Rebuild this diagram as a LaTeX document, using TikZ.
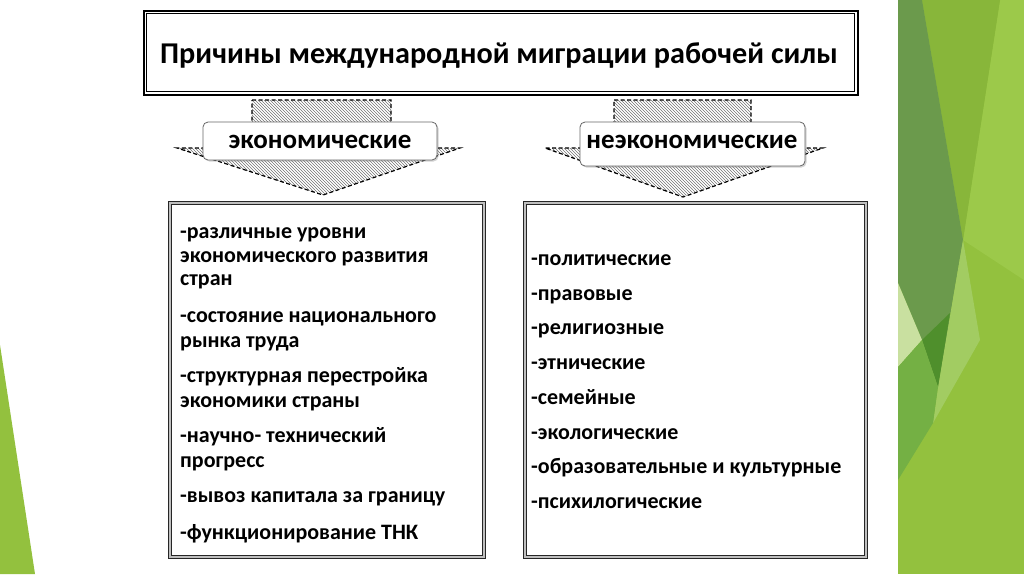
\documentclass[tikz,border=0pt]{standalone}
\usepackage{fontspec}
\setmainfont{Carlito}
\usetikzlibrary{patterns,shadows}
\definecolor{gA}{HTML}{93C13E}
\definecolor{gDark}{HTML}{6B9A4C}
\definecolor{gMid}{HTML}{88B63A}
\definecolor{gLight}{HTML}{9CC94A}
\definecolor{gDeep}{HTML}{4F8F2C}
\definecolor{gPale}{HTML}{C9E0A0}
\definecolor{gLow}{HTML}{74B044}
\definecolor{gBand}{HTML}{A2CC62}
\begin{document}
\begin{tikzpicture}[x=1pt,y=-1pt,
  txt/.style={font=\bfseries\fontsize{22}{24}\selectfont, inner sep=0pt, anchor=base west},
  labelbox/.style={draw=black!60, fill=white, rounded corners=5pt, line width=0.8pt,
     drop shadow={shadow xshift=1.5pt, shadow yshift=-1.5pt, opacity=0.35},
     font=\bfseries\fontsize{27}{30}\selectfont, inner sep=0pt},
  listbox/.style={draw=black!85, line width=1pt, double=black!25, double distance=1.6pt, inner sep=0pt},
  arrowshape/.style={pattern=north west lines, pattern color=black!55, draw=black, dashed, line width=1.2pt, dash pattern=on 4pt off 2.5pt}
]
\useasboundingbox (0,0) rectangle (1024,574);
\fill[white] (0,0) rectangle (1024,574);
% green decorations
\fill[gA] (898,0) rectangle (1024,574);
\fill[gLight] (1000,0) -- (1024,0) -- (1024,280) -- (963,240) -- cycle;
\fill[gMid] (922,0) -- (1000,0) -- (963,240) -- cycle;
\fill[gDark] (898,0) -- (922,0) -- (963,240) -- (938,387) -- (922,340) -- (898,283) -- cycle;
\fill[gBand] (963,240) -- (980,340) -- (933,423) -- (938,387) -- cycle;
\fill[gPale] (898,283) -- (922,340) -- (898,367) -- cycle;
\fill[gDeep] (922,340) -- (950,313) -- (938,387) -- cycle;
\fill[gLow] (898,367) -- (922,340) -- (938,387) -- (933,423) -- (898,480) -- cycle;
\fill[gA] (0,345) -- (35,574) -- (0,574) -- cycle;
% title
\node[draw=black, line width=2pt, minimum width=714pt, minimum height=84pt, inner sep=0pt] (title) at (500.5,52.5) {};
\draw[line width=0.9pt] ([shift={(4pt,-4pt)}]title.north west) rectangle ([shift={(-4pt,4pt)}]title.south east);
\node[font=\bfseries\fontsize{30.2}{33}\selectfont, inner sep=0pt, anchor=base] (titletext) at (499,63) {Причины международной миграции рабочей силы};
% arrows
\draw[arrowshape] (252,100) -- (391,100) -- (391,148) -- (460,148) -- (323,195) -- (177,148) -- (252,148) -- cycle;
\draw[arrowshape] (614,100) -- (751,100) -- (751,148) -- (823,148) -- (683,197) -- (545,148) -- (614,148) -- cycle;
\node[labelbox, minimum width=234pt, minimum height=38pt] (econ) at (320,141) {};
\node[font=\bfseries\fontsize{27}{30}\selectfont, inner sep=0pt, anchor=base] (econt) at (320,148) {экономические};
\node[labelbox, minimum width=225pt, minimum height=44pt] (nonecon) at (692.5,144) {};
\node[font=\bfseries\fontsize{27}{30}\selectfont, inner sep=0pt, anchor=base] (nonecont) at (692,148) {неэкономические};
% boxes
\node[listbox, minimum width=314pt, minimum height=354pt] (left) at (327,380) {};
\node[listbox, minimum width=341pt, minimum height=354pt] (right) at (695.5,380) {};
% left text
\node[txt] (l1) at (180,238) {-различные уровни};
\node[txt] (l2) at (180,262) {экономического развития};
\node[txt] (l3) at (180,285) {стран};
\node[txt] (l4) at (180,322) {-состояние национального};
\node[txt] (l5) at (180,347) {рынка труда};
\node[txt] (l6) at (180,382) {-структурная перестройка};
\node[txt] (l7) at (180,407) {экономики страны};
\node[txt] (l8) at (180,442) {-научно- технический};
\node[txt] (l9) at (180,467) {прогресс};
\node[txt] (l10) at (180,502) {-вывоз капитала за границу};
\node[txt] (l11) at (180,539) {-функционирование ТНК};
% right text
\node[txt] (r1) at (531,265) {-политические};
\node[txt] (r2) at (531,300) {-правовые};
\node[txt] (r3) at (531,334) {-религиозные};
\node[txt] (r4) at (531,369) {-этнические};
\node[txt] (r5) at (531,404) {-семейные};
\node[txt] (r6) at (531,439) {-экологические};
\node[txt] (r7) at (531,473) {-образовательные и культурные};
\node[txt] (r8) at (531,508) {-психилогические};
\end{tikzpicture}
\end{document}
